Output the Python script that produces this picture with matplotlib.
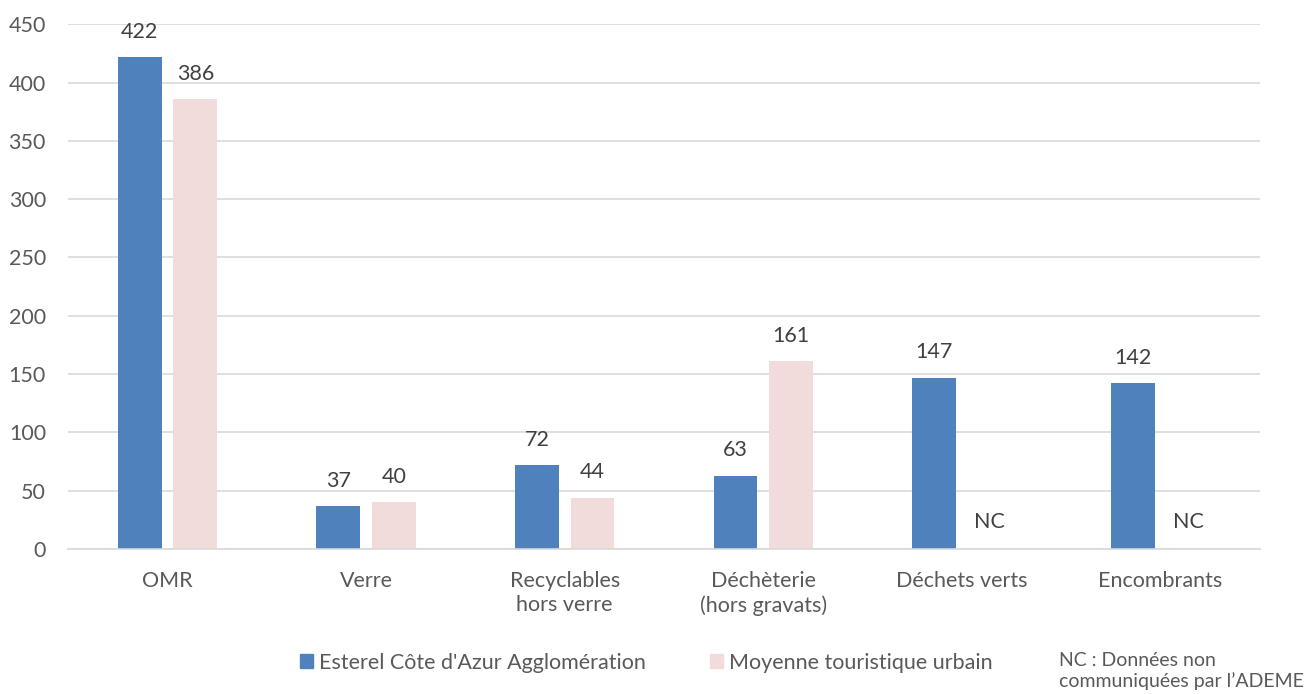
import matplotlib.pyplot as plt
import numpy as np
from matplotlib.patches import Patch

categories = ["OMR", "Verre", "Recyclables\nhors verre", "Déchèterie\n(hors gravats)",
              "Déchets verts", "Encombrants"]
esterel = [422, 37, 72, 63, 147, 142]
moyenne = [386, 40, 44, 161, None, None]
series_names = ["Esterel Côte d'Azur Agglomération", "Moyenne touristique urbain"]
y_ticks = [0, 50, 100, 150, 200, 250, 300, 350, 400, 450]

BLUE = "#4F81BD"
PINK = "#F2DCDB"
TEXT = "#595959"
FS = 15.5

plt.rcParams["font.family"] = ["Lato", "DejaVu Sans"]

fig = plt.figure(figsize=(13.11, 6.94), dpi=100)
ax = fig.add_axes([0.052, 0.209, 0.909, 0.756])

x = np.arange(len(categories))
w = 0.22
off = 0.14
ax.bar(x - off, esterel, width=w, color=BLUE, zorder=2)
m_vals = [v if v is not None else 0 for v in moyenne]
ax.bar(x + off, m_vals, width=w, color=PINK, zorder=2)

for xi, v in zip(x, esterel):
    ax.annotate(str(v), (xi - off, v), xytext=(0, 11), textcoords="offset points",
                ha="center", va="bottom", fontsize=FS, color="#404040")
for xi, v in zip(x, moyenne):
    if v is None:
        ax.annotate("NC", (xi + off, 0), xytext=(0, 12), textcoords="offset points",
                    ha="center", va="bottom", fontsize=FS, color="#404040")
    else:
        ax.annotate(str(v), (xi + off, v), xytext=(0, 11), textcoords="offset points",
                    ha="center", va="bottom", fontsize=FS, color="#404040")

ax.set_xlim(-0.5, len(categories) - 0.5)
ax.set_ylim(0, 450)
ax.set_yticks(y_ticks)
ax.set_xticks(x)
ax.set_xticklabels(categories, fontsize=FS, color=TEXT, linespacing=1.25)
ax.tick_params(axis="y", labelsize=FS, labelcolor=TEXT, length=0, pad=16)
ax.tick_params(axis="x", length=0, pad=16)
ax.grid(axis="y", color="#D9D9D9", linewidth=1.2, zorder=0)
for s in ["top", "right", "left"]:
    ax.spines[s].set_visible(False)
ax.spines["bottom"].set_color("#D9D9D9")
ax.spines["bottom"].set_linewidth(1.2)

handles = [Patch(color=BLUE), Patch(color=PINK)]
fig.legend(handles, series_names, loc="center", bbox_to_anchor=(0.493, 0.045),
           ncol=2, frameon=False, fontsize=FS, handlelength=0.6, handleheight=0.6,
           handletextpad=0.28, columnspacing=3.0, labelcolor=TEXT)
fig.text(0.808, 0.033, "NC : Données non\ncommuniquées par l\u2019ADEME", fontsize=14,
         color=TEXT, va="center", ha="left", linespacing=1.2)

fig.savefig("out.png", dpi=100)
